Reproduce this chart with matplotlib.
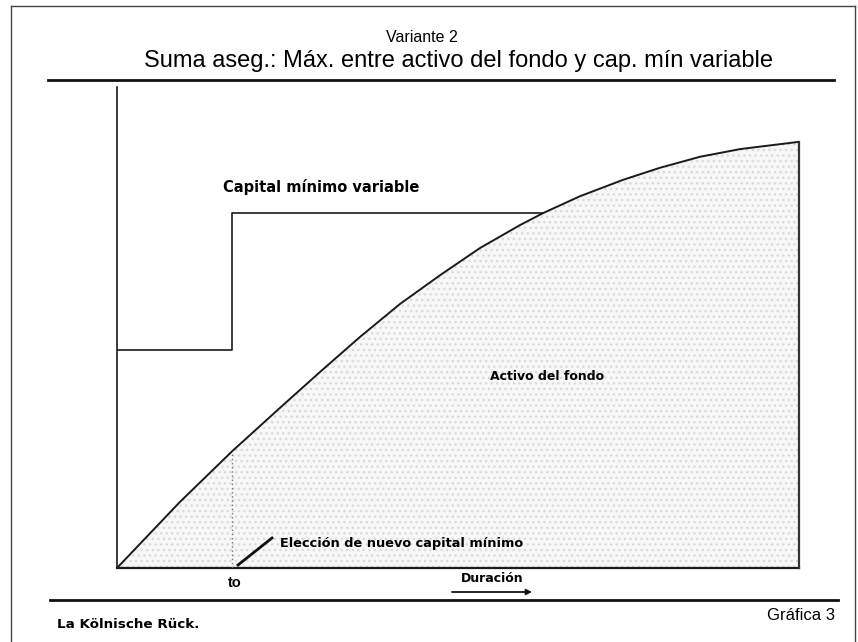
import matplotlib
matplotlib.use("Agg")
import matplotlib.pyplot as plt
from matplotlib.lines import Line2D

# curve "Activo del fondo" (duration 0..100, value 0..100)
fondo_x = [0, 9.2, 16.9, 23.9, 29.8, 35.6, 41.5, 47.4, 53.2, 59.1, 62.5,
           67.9, 74.2, 79.6, 85.5, 91.4, 100]
fondo_y = [0, 13.7, 24.3, 33.3, 40.8, 48.0, 54.9, 60.9, 66.5, 71.3, 73.8,
           77.3, 80.7, 83.2, 85.5, 87.1, 88.6]

# step line "Capital minimo variable"
t0 = 16.9
cap_x = [0, t0, t0, 62.5]
cap_y = [45.3, 45.3, 73.8, 73.8]

W, H = 858, 642


def px(x, y):
    return x / W, 1 - y / H


def fig_line(fig, x0, y0, x1, y1, **kw):
    a, b = px(x0, y0)
    c, d = px(x1, y1)
    fig.add_artist(Line2D([a, c], [b, d], transform=fig.transFigure, **kw))


fig = plt.figure(figsize=(W / 100, H / 100), dpi=100)
fig.patch.set_facecolor("white")

ax = fig.add_axes([117 / W, 1 - 568 / H, (799 - 117) / W, (568 - 87) / H])
ax.set_xlim(0, 100)
ax.set_ylim(0, 100)
ax.axis("off")

# stippled area under the fund curve
ax.fill_between(fondo_x, fondo_y, 0, facecolor="#f7f7f7", edgecolor="#dadada",
                hatch="...", linewidth=0)
ax.plot(fondo_x, fondo_y, color="#1a1a1a", lw=1.4)
ax.plot(cap_x, cap_y, color="#1a1a1a", lw=1.2)

# axes and edges
ax.plot([0, 0], [0, 100], color="#1a1a1a", lw=1.2, clip_on=False)
ax.plot([0, 100], [0, 0], color="#1a1a1a", lw=1.6, clip_on=False)
ax.plot([100, 100], [0, fondo_y[-1]], color="#333333", lw=1.6, clip_on=False)
ax.plot([t0, t0], [0, fondo_y[2]], color="#777777", lw=1, ls=(0, (1, 2)))

# frame and rules
fig_line(fig, 11, 6, 855, 6, color="#444444", lw=1)
fig_line(fig, 11, 6, 11, 642, color="#444444", lw=1)
fig_line(fig, 855, 6, 855, 642, color="#444444", lw=1)
fig_line(fig, 48, 80, 834, 80, color="#111111", lw=2)
fig_line(fig, 50, 600, 838, 600, color="#111111", lw=2)

# titles
fig.text(*px(422, 37), "Variante 2", ha="center", va="center",
         fontsize=11.5, family="Liberation Sans")
fig.text(*px(458, 61), "Suma aseg.: Máx. entre activo del fondo y cap. mín variable",
         ha="center", va="center", fontsize=17, family="Liberation Sans")

# labels inside plot
fig.text(*px(223, 187), "Capital mínimo variable", ha="left", va="center",
         fontsize=10.5, fontweight="bold")
fig.text(*px(490, 377), "Activo del fondo", ha="left", va="center",
         fontsize=9, fontweight="bold")
fig.text(*px(280, 543), "Elección de nuevo capital mínimo", ha="left", va="center",
         fontsize=9.3, fontweight="bold")
fig_line(fig, 238, 565, 272, 538, color="#111111", lw=2)

fig.text(*px(235, 583), "to", ha="center", va="center", fontsize=10.5,
         fontweight="bold", family="Liberation Sans")
fig.text(*px(492, 579), "Duración", ha="center", va="center", fontsize=9,
         fontweight="bold")
ax.annotate("", xy=px(532, 592), xytext=px(452, 592), xycoords="figure fraction",
            textcoords="figure fraction",
            arrowprops=dict(arrowstyle="-|>", color="#111111", lw=1.3,
                            mutation_scale=8, shrinkA=0, shrinkB=0))

# footer
fig.text(*px(57, 624), "La Kölnische Rück.", ha="left", va="center",
         fontsize=9.7, fontweight="bold")
fig.text(*px(835, 615), "Gráfica 3", ha="right", va="center", fontsize=12,
         family="Liberation Sans")

fig.savefig("out.png", dpi=100)
